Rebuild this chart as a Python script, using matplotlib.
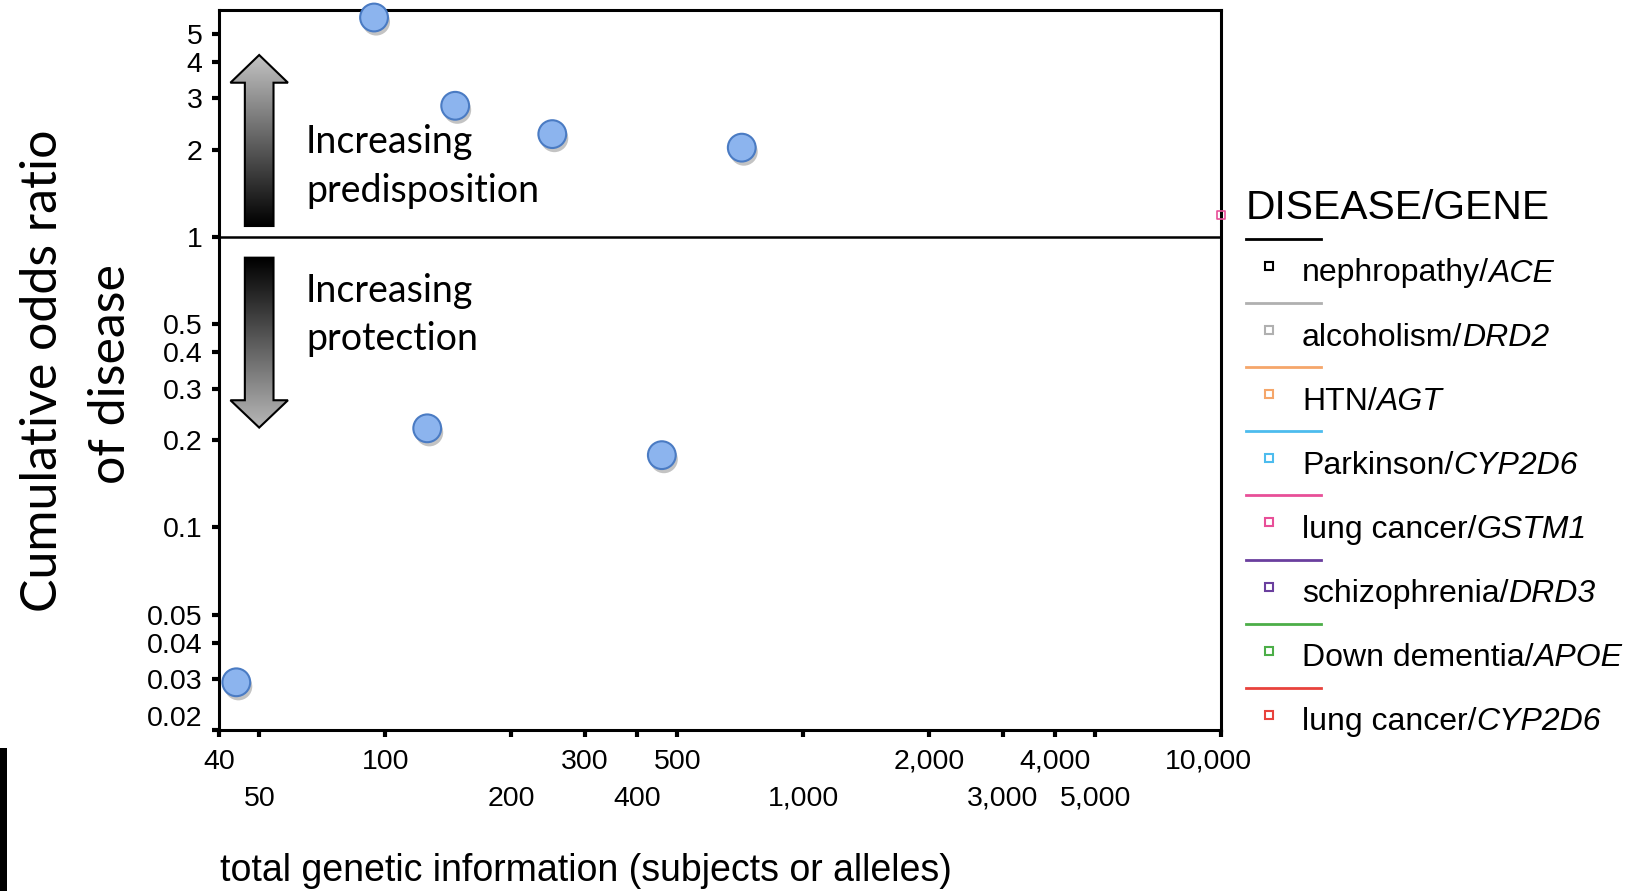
import numpy as np
import matplotlib
matplotlib.use("Agg")
import matplotlib.pyplot as plt
import matplotlib.patheffects as pe
import matplotlib.transforms as mtransforms
from matplotlib.patches import Polygon, Rectangle
from matplotlib.lines import Line2D
from matplotlib.colors import LinearSegmentedColormap
from matplotlib.ticker import FixedLocator, FixedFormatter, NullLocator

plt.rcParams['font.family'] = ['Liberation Sans', 'DejaVu Sans']

W, H = 1628, 891

# points
info_x = [94, 147, 251, 713, 126, 459, 44]
odds_y = [5.7, 2.83, 2.26, 2.03, 0.219, 0.177, 0.0292]

# half hidden GSTM1 mark sitting on the right spine
stray_x = [10000]
stray_y = [1.19]

x_major = [40, 100, 300, 500, 2000, 4000, 10000]
x_minor = [50, 200, 400, 1000, 3000, 5000]
y_ticks = [0.02, 0.03, 0.04, 0.05, 0.1, 0.2, 0.3, 0.4, 0.5, 1, 2, 3, 4, 5]

legend_names = ["nephropathy/", "alcoholism/", "HTN/", "Parkinson/",
                "lung cancer/", "schizophrenia/", "Down dementia/", "lung cancer/"]
legend_genes = ["ACE", "DRD2", "AGT", "CYP2D6", "GSTM1", "DRD3", "APOE", "CYP2D6"]
legend_colors = ["#000000", "#b0b0b0", "#f5a66a", "#4dbcee",
                 "#e84f98", "#6a3f9e", "#4cae48", "#e8423c"]

fig = plt.figure(figsize=(W / 100, H / 100), dpi=100)
pos = [219 / W, 1 - 730 / H, 1002 / W, 720 / H]
ax = fig.add_axes(pos)
ax.set_xscale('log')
ax.set_yscale('log')

ax.scatter(info_x, odds_y, s=400, c='#8cb4ee', edgecolors='#4a7bc3',
           linewidths=1.5, zorder=5, clip_on=False,
           path_effects=[pe.SimplePatchShadow(offset=(1.5, -3), shadow_rgbFace='#555555', alpha=0.35),
                         pe.Normal()])
ax.scatter(stray_x, stray_y, s=30, marker='s', facecolors='none',
           edgecolors='#e84f98', linewidths=1.2, zorder=4, clip_on=False)
ax.axhline(1, color='black', lw=1.8, zorder=3)

ax.set_xlim(40, 10000)
ax.set_ylim(0.02, 6.05)

ax.xaxis.set_major_locator(FixedLocator(x_major))
ax.xaxis.set_major_formatter(FixedFormatter([f"{v:,}" for v in x_major]))
ax.xaxis.set_minor_locator(FixedLocator(x_minor))
ax.xaxis.set_minor_formatter(FixedFormatter([f"{v:,}" for v in x_minor]))
ax.yaxis.set_major_locator(FixedLocator(y_ticks))
ax.yaxis.set_major_formatter(FixedFormatter([f"{v:g}" for v in y_ticks]))
ax.yaxis.set_minor_locator(NullLocator())

ax.tick_params(axis='both', which='both', direction='out', length=5, width=3,
               labelsize=20.5, colors='black')
ax.tick_params(axis='x', which='major', pad=8.5)
ax.tick_params(axis='x', which='minor', pad=35)
ax.tick_params(axis='y', pad=7)
for s in ax.spines.values():
    s.set_linewidth(2.2)

# the 0.02 label sits a little above the corner in the original
lab = ax.yaxis.get_major_ticks()[0].label1
lab.set_transform(lab.get_transform() + mtransforms.ScaledTranslation(0, 10 / 72, fig.dpi_scale_trans))
# 10,000 is nudged left of its tick
lab = ax.xaxis.get_major_ticks()[-1].label1
lab.set_transform(lab.get_transform() + mtransforms.ScaledTranslation(-9 / 72, 0, fig.dpi_scale_trans))

# overlay for the arrows and their captions
ov = fig.add_axes(pos, frameon=False)
ov.set_axis_off()


def grad_arrow(pts, top_col, bot_col):
    poly = Polygon(pts, closed=True, facecolor='none', edgecolor='black', lw=1.5, zorder=3)
    ov.add_patch(poly)
    xs = [p[0] for p in pts]
    ys = [p[1] for p in pts]
    g = np.linspace(0, 1, 256).reshape(-1, 1)
    cmap = LinearSegmentedColormap.from_list('g', [bot_col, top_col])
    im = ov.imshow(g, cmap=cmap, origin='lower', aspect='auto', zorder=2,
                   extent=[min(xs), max(xs), min(ys), max(ys)])
    im.set_clip_path(poly)


cx, sw, hw = 0.0401, 0.0143, 0.0287
grad_arrow([(cx - sw, 0.700), (cx + sw, 0.700), (cx + sw, 0.899), (cx + hw, 0.899),
            (cx, 0.9375), (cx - hw, 0.899), (cx - sw, 0.899)], '#c4c4c4', '#000000')
grad_arrow([(cx - sw, 0.656), (cx + sw, 0.656), (cx + sw, 0.458), (cx + hw, 0.458),
            (cx, 0.420), (cx - hw, 0.458), (cx - sw, 0.458)], '#000000', '#b8b8b8')
ov.set_xlim(0, 1)
ov.set_ylim(0, 1)

cap = dict(fontsize=27, family=['Lato', 'DejaVu Sans'], va='baseline', ha='left')
ov.text(0.0868, 0.8018, "Increasing", **cap)
ov.text(0.0868, 0.7338, "predisposition", **cap)
ov.text(0.0868, 0.5949, "Increasing", **cap)
ov.text(0.0868, 0.5278, "protection", **cap)

# y label in two lines
ylab = dict(fontsize=36, family=['Lato', 'DejaVu Sans'], rotation=90,
            rotation_mode='anchor', ha='center', va='baseline')
fig.text(57 / W, 1 - 371 / H, "Cumulative odds ratio", **ylab)
fig.text(125 / W, 1 - 374 / H, "of disease", **ylab)

fig.text(220 / W, 1 - 881 / H, "total genetic information (subjects or alleles)",
         fontsize=27, ha='left', va='baseline')

# legend drawn by hand
fig.text(1246 / W, 1 - 219 / H, "DISEASE/GENE", fontsize=29.4, ha='left', va='baseline')
r = fig.canvas.get_renderer()
for i, (name, gene, col) in enumerate(zip(legend_names, legend_genes, legend_colors)):
    ly = 239 + i * 64.1
    fig.add_artist(Line2D([1246 / W, 1321 / W], [1 - ly / H, 1 - ly / H], color=col, lw=2))
    fig.add_artist(Line2D([1269 / W], [1 - (ly + 27) / H], marker='s', markersize=6,
                          markerfacecolor='none', markeredgecolor=col, markeredgewidth=1.5,
                          linestyle='none'))
    t = fig.text(1302 / W, 1 - (ly + 42.5) / H, name, fontsize=23, ha='left', va='baseline')
    bb = t.get_window_extent(renderer=r)
    fig.text(bb.x1 / W, 1 - (ly + 42.5) / H, gene, fontsize=23, style='italic',
             ha='left', va='baseline')

# dark bar in the lower left corner of the slide
fig.add_artist(Rectangle((0, 0), 6.5 / W, 143 / H, transform=fig.transFigure,
                         facecolor='black', edgecolor='none'))

fig.savefig('out.png', dpi=100)
